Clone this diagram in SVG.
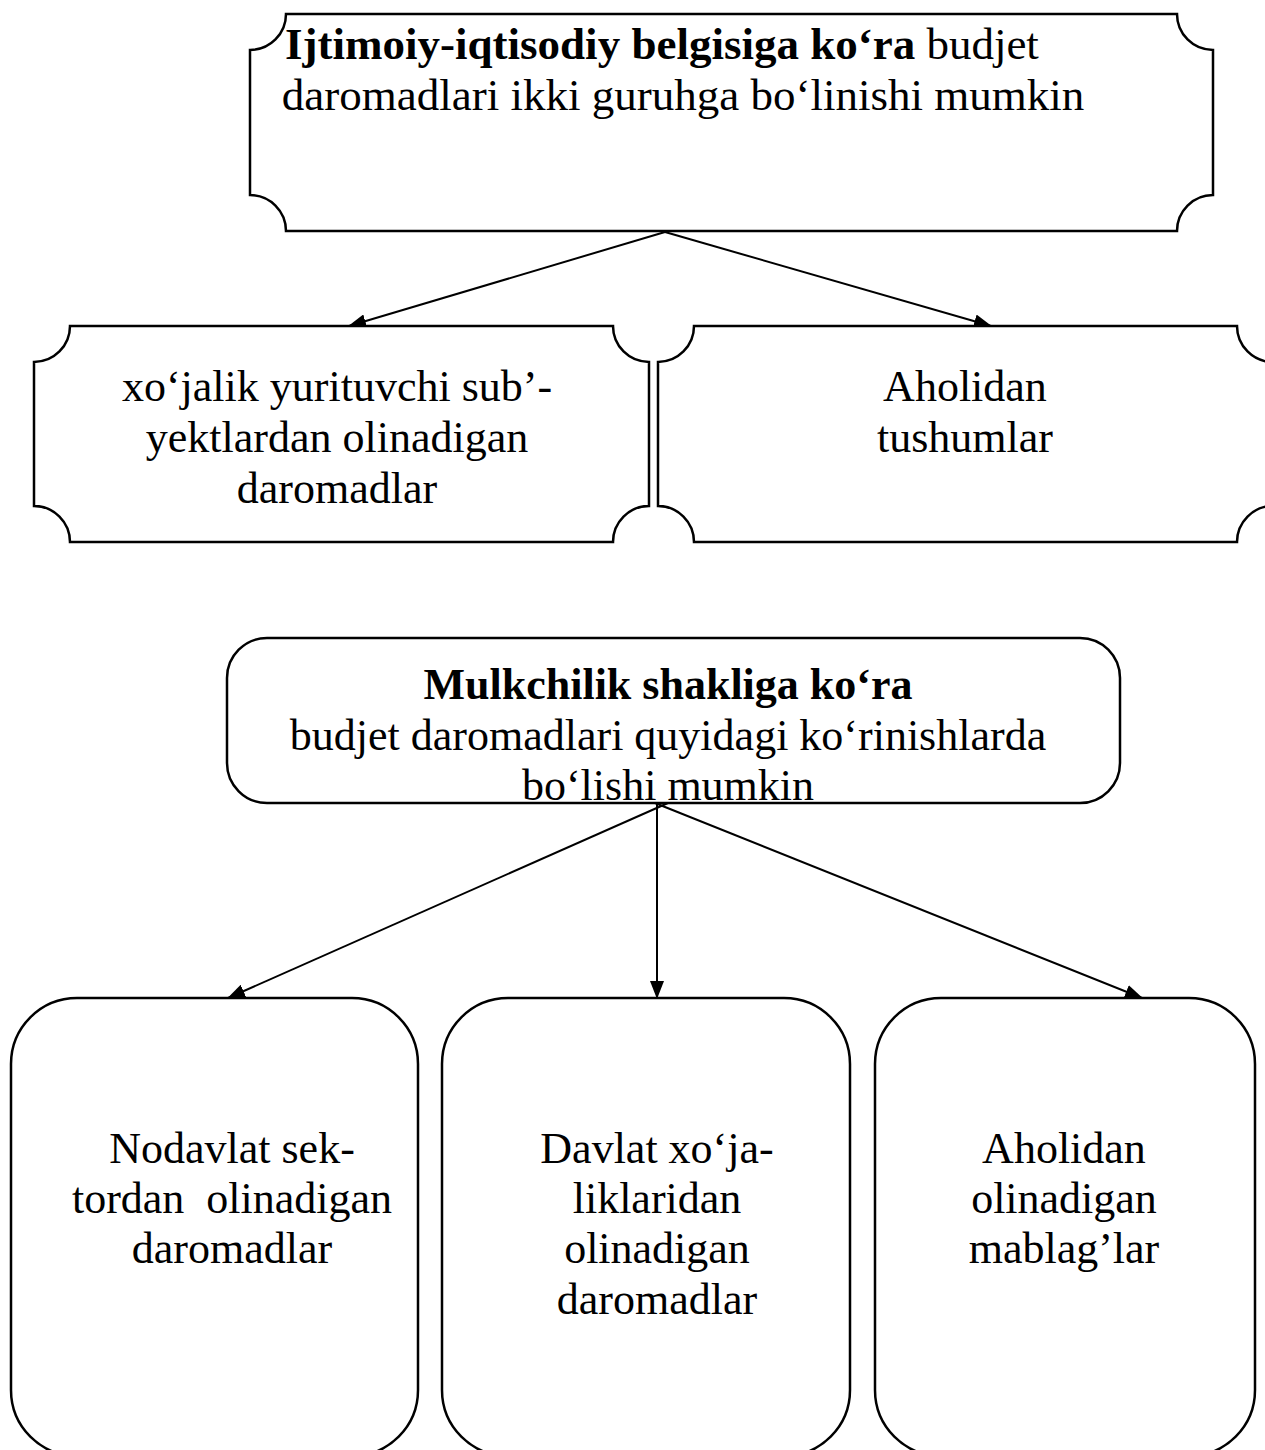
<svg xmlns="http://www.w3.org/2000/svg" width="1265" height="1450" viewBox="0 0 1265 1450">
<style>
.s{fill:#fff;stroke:#000;stroke-width:2.5}
.c{stroke:#000;stroke-width:2;fill:none}
text{font-family:"Liberation Serif","Times New Roman",serif;font-size:44px;fill:#000;text-anchor:middle}
.t{font-size:45px}
.b{font-weight:bold}
</style>
<defs>
<marker id="ah" markerWidth="18" markerHeight="14" refX="17" refY="7" orient="auto" markerUnits="userSpaceOnUse">
<path d="M0,0 L18,7 L0,14 Z" fill="#000"/>
</marker>
</defs>
<g id="connectors">
<line class="c" x1="665" y1="232" x2="349" y2="326" marker-end="url(#ah)"/>
<line class="c" x1="665" y1="232" x2="991" y2="326" marker-end="url(#ah)"/>
<line class="c" x1="668" y1="803" x2="228" y2="998" marker-end="url(#ah)"/>
<line class="c" x1="657" y1="803" x2="657" y2="998" marker-end="url(#ah)"/>
<line class="c" x1="655" y1="803" x2="1142" y2="998" marker-end="url(#ah)"/>
</g>
<g id="n1">
<path class="s" d="M286,14 H1177 A36,36 0 0 0 1213,50 V195 A36,36 0 0 0 1177,231 H286 A36,36 0 0 0 250,195 V50 A36,36 0 0 0 286,14 Z"/>
<text class="t" x="662" y="59"><tspan class="b">Ijtimoiy-iqtisodiy belgisiga ko‘ra</tspan> budjet</text>
<text class="t" x="683" y="110">daromadlari ikki guruhga bo‘linishi mumkin</text>
</g>
<g id="n2">
<path class="s" d="M70,326 H613 A36,36 0 0 0 649,362 V506 A36,36 0 0 0 613,542 H70 A36,36 0 0 0 34,506 V362 A36,36 0 0 0 70,326 Z"/>
<text x="337" y="401">xo‘jalik yurituvchi sub’-</text>
<text x="337" y="452">yektlardan olinadigan</text>
<text x="337" y="503">daromadlar</text>
</g>
<g id="n3">
<path class="s" d="M694,326 H1237 A36,36 0 0 0 1273,362 V506 A36,36 0 0 0 1237,542 H694 A36,36 0 0 0 658,506 V362 A36,36 0 0 0 694,326 Z"/>
<text x="965" y="401">Aholidan</text>
<text x="965" y="452">tushumlar</text>
</g>
<g id="n4">
<rect class="s" x="227" y="638" width="893" height="165" rx="40" ry="40"/>
<text x="668" y="699" class="b">Mulkchilik shakliga ko‘ra</text>
<text x="668" y="750">budjet daromadlari quyidagi ko‘rinishlarda</text>
<text x="668" y="800">bo‘lishi mumkin</text>
</g>
<g id="n5">
<rect class="s" x="11" y="998" width="407" height="458" rx="66" ry="66"/>
<text x="232" y="1163">Nodavlat sek-</text>
<text x="232" y="1213" xml:space="preserve">tordan  olinadigan</text>
<text x="232" y="1263">daromadlar</text>
</g>
<g id="n6">
<rect class="s" x="442" y="998" width="408" height="458" rx="66" ry="66"/>
<text x="657" y="1163">Davlat xo‘ja-</text>
<text x="657" y="1213">liklaridan</text>
<text x="657" y="1263">olinadigan</text>
<text x="657" y="1314">daromadlar</text>
</g>
<g id="n7">
<rect class="s" x="875" y="998" width="380" height="458" rx="66" ry="66"/>
<text x="1064" y="1163">Aholidan</text>
<text x="1064" y="1213">olinadigan</text>
<text x="1064" y="1263">mablag’lar</text>
</g>
</svg>
